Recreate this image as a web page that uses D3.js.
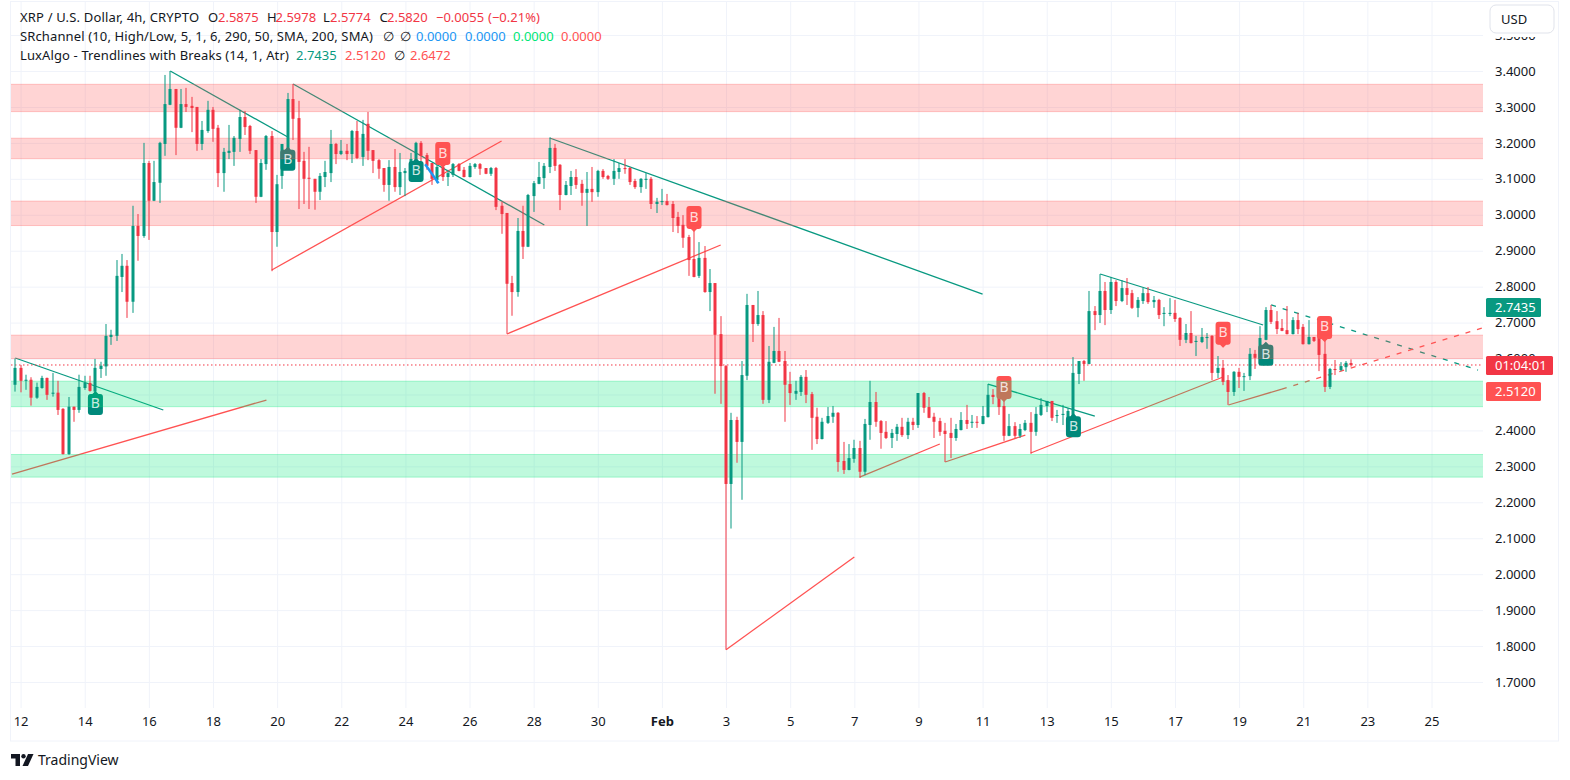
<!DOCTYPE html>
<html>
<head>
<meta charset="utf-8">
<title>XRP / U.S. Dollar</title>
<script src="https://cdn.jsdelivr.net/npm/d3@7"></script>
<style>
body { margin: 0; background: #fff; }
text { font-family: "Noto Sans", sans-serif; }
</style>
</head>
<body>
<div class="canvas"></div>
<script>
// candles, one per 4h, first bar is the last one of Jan 11
const opens = [2.527,2.574,2.538,2.541,2.491,2.518,2.546,2.502,2.505,2.460,2.334,2.466,2.457,2.518,2.532,2.508,2.571,2.578,2.660,2.663,2.827,2.858,2.758,2.969,2.941,3.144,3.039,3.089,3.197,3.306,3.350,3.242,3.308,3.303,3.300,3.197,3.233,3.292,3.242,3.116,3.172,3.175,3.211,3.272,3.247,3.180,3.050,3.141,3.219,2.952,3.108,3.128,3.322,3.269,3.150,3.103,3.100,3.064,3.105,3.116,3.197,3.169,3.178,3.169,3.233,3.161,3.253,3.180,3.152,3.130,3.083,3.133,3.077,3.116,3.108,3.152,3.200,3.166,3.144,3.097,3.133,3.105,3.111,3.141,3.125,3.105,3.133,3.141,3.130,3.114,
3.130,3.025,3.005,2.810,2.785,2.955,2.911,3.052,3.086,3.102,3.133,3.186,3.139,3.055,3.080,3.105,3.086,3.061,3.072,3.063,3.122,3.108,3.100,3.119,3.130,3.130,3.094,3.077,3.097,3.100,3.030,3.036,3.038,3.030,2.994,2.972,2.938,2.877,2.830,2.880,2.785,2.810,2.668,2.579,2.251,2.429,2.368,2.552,2.749,2.696,2.721,2.485,2.588,2.621,2.593,2.529,2.502,2.507,2.549,2.501,2.438,2.376,2.421,2.438,2.449,2.315,2.290,2.321,2.351,2.285,2.415,2.479,2.426,2.396,2.379,2.390,2.410,2.387,2.424,2.415,2.504,2.465,2.438,2.426,2.399,2.393,2.379,2.401,2.429,2.421,2.424,2.418,2.437,2.499,2.496,2.468,2.385,2.412,2.385,2.401,2.421,2.396,2.443,2.468,2.482,2.440,2.443,2.418,2.438,2.557,2.593,2.585,2.732,2.721,2.788,2.735,2.813,2.760,2.796,2.782,2.741,2.760,2.782,2.757,2.763,2.724,2.724,2.727,2.713,2.652,2.671,2.646,2.646,2.657,2.663,2.560,2.574,2.540,2.507,2.563,2.549,2.551,2.613,2.599,2.652,2.735,2.704,2.685,2.679,2.668,2.707,2.688,2.640,2.660,2.713,2.613,2.521,2.571,2.568,2.576,2.5875];
const highs = [2.600,2.582,2.555,2.548,2.533,2.552,2.547,2.560,2.538,2.462,2.493,2.466,2.555,2.552,2.552,2.599,2.591,2.696,2.680,2.874,2.891,2.874,3.025,3.002,3.200,3.150,3.150,3.203,3.389,3.400,3.350,3.350,3.353,3.328,3.300,3.261,3.317,3.300,3.250,3.186,3.250,3.219,3.292,3.289,3.250,3.180,3.155,3.222,3.233,3.111,3.197,3.339,3.364,3.317,3.175,3.189,3.100,3.116,3.150,3.236,3.200,3.208,3.197,3.236,3.261,3.264,3.286,3.180,3.155,3.130,3.152,3.183,3.172,3.130,3.172,3.203,3.205,3.172,3.144,3.139,3.143,3.125,3.144,3.144,3.133,3.144,3.144,3.144,3.130,3.133,
3.133,3.036,3.005,2.830,2.991,3.025,3.058,3.094,3.147,3.144,3.215,3.197,3.141,3.094,3.122,3.127,3.097,3.119,3.133,3.125,3.127,3.111,3.155,3.144,3.155,3.133,3.100,3.102,3.116,3.105,3.047,3.072,3.058,3.038,3.008,2.999,2.944,2.958,2.924,2.913,2.849,2.810,2.718,2.582,2.449,2.438,2.593,2.780,2.749,2.788,2.732,2.635,2.688,2.713,2.621,2.563,2.538,2.554,2.568,2.507,2.463,2.435,2.465,2.468,2.451,2.368,2.362,2.374,2.371,2.432,2.538,2.507,2.429,2.426,2.404,2.418,2.435,2.435,2.435,2.504,2.507,2.493,2.449,2.435,2.421,2.435,2.418,2.451,2.471,2.443,2.440,2.468,2.529,2.515,2.499,2.482,2.446,2.423,2.418,2.429,2.451,2.465,2.490,2.482,2.482,2.457,2.471,2.462,2.604,2.593,2.596,2.788,2.746,2.835,2.813,2.827,2.818,2.818,2.824,2.791,2.771,2.796,2.799,2.774,2.766,2.743,2.768,2.763,2.715,2.696,2.732,2.663,2.685,2.671,2.665,2.607,2.596,2.554,2.565,2.574,2.560,2.629,2.624,2.690,2.743,2.749,2.732,2.710,2.746,2.715,2.727,2.696,2.707,2.660,2.715,2.652,2.574,2.596,2.590,2.593,2.5978];
const lows = [2.508,2.506,2.513,2.469,2.488,2.516,2.485,2.494,2.443,2.333,2.332,2.424,2.449,2.513,2.508,2.476,2.546,2.552,2.638,2.649,2.785,2.713,2.727,2.872,2.936,2.930,3.038,3.033,3.164,3.305,3.166,3.241,3.286,3.230,3.178,3.180,3.228,3.203,3.077,3.064,3.155,3.136,3.175,3.222,3.169,3.033,3.049,3.125,2.843,2.911,3.072,3.127,3.208,3.016,3.030,3.016,3.014,3.041,3.077,3.091,3.141,3.166,3.152,3.144,3.155,3.136,3.152,3.116,3.100,3.064,3.039,3.064,3.055,3.052,3.106,3.139,3.111,3.125,3.083,3.088,3.094,3.080,3.105,3.121,3.104,3.104,3.128,3.111,3.113,3.108,
3.013,2.947,2.669,2.719,2.772,2.877,2.910,3.008,3.085,3.072,3.116,3.122,3.013,3.054,3.055,3.072,3.025,2.969,3.036,3.050,3.100,3.097,3.083,3.100,3.114,3.083,3.072,3.061,3.072,3.016,3.005,3.027,3.026,2.952,2.949,2.908,2.830,2.826,2.824,2.783,2.732,2.502,2.474,1.790,2.127,2.310,2.207,2.540,2.646,2.691,2.474,2.476,2.587,2.590,2.424,2.471,2.485,2.496,2.476,2.346,2.362,2.375,2.418,2.421,2.285,2.279,2.289,2.310,2.268,2.276,2.374,2.410,2.349,2.376,2.351,2.371,2.382,2.376,2.401,2.407,2.449,2.434,2.379,2.385,2.312,2.323,2.371,2.400,2.404,2.407,2.407,2.417,2.436,2.473,2.443,2.371,2.384,2.379,2.379,2.398,2.335,2.385,2.440,2.451,2.426,2.421,2.415,2.415,2.428,2.529,2.538,2.584,2.679,2.699,2.693,2.724,2.746,2.757,2.749,2.738,2.715,2.752,2.752,2.741,2.710,2.690,2.718,2.702,2.635,2.643,2.642,2.607,2.643,2.627,2.540,2.546,2.526,2.471,2.496,2.518,2.510,2.540,2.571,2.593,2.651,2.696,2.668,2.676,2.667,2.667,2.668,2.639,2.639,2.646,2.565,2.507,2.515,2.554,2.565,2.563,2.5774];
const closes = [2.574,2.538,2.541,2.491,2.521,2.546,2.499,2.505,2.457,2.334,2.466,2.457,2.521,2.532,2.510,2.574,2.580,2.663,2.666,2.830,2.858,2.758,2.969,2.941,3.144,3.039,3.091,3.200,3.308,3.350,3.242,3.308,3.300,3.297,3.197,3.236,3.292,3.239,3.116,3.175,3.178,3.214,3.272,3.244,3.178,3.050,3.144,3.219,2.952,3.085,3.197,3.322,3.267,3.147,3.100,3.100,3.064,3.108,3.119,3.197,3.169,3.178,3.169,3.233,3.158,3.225,3.178,3.150,3.128,3.083,3.133,3.077,3.119,3.122,3.155,3.200,3.164,3.136,3.100,3.133,3.105,3.116,3.141,3.122,3.105,3.136,3.141,3.128,3.114,3.130,
3.022,3.002,2.808,2.785,2.955,2.911,3.055,3.088,3.105,3.136,3.186,3.136,3.055,3.083,3.105,3.083,3.061,3.072,3.063,3.122,3.105,3.100,3.122,3.130,3.127,3.091,3.077,3.100,3.100,3.030,3.036,3.038,3.027,2.991,2.969,2.936,2.874,2.827,2.880,2.785,2.810,2.666,2.579,2.251,2.429,2.368,2.554,2.749,2.696,2.721,2.485,2.591,2.621,2.591,2.527,2.504,2.510,2.549,2.499,2.435,2.376,2.424,2.440,2.449,2.312,2.290,2.323,2.351,2.285,2.418,2.479,2.424,2.393,2.379,2.393,2.410,2.387,2.424,2.415,2.504,2.463,2.435,2.424,2.396,2.390,2.379,2.404,2.429,2.418,2.424,2.421,2.440,2.499,2.493,2.465,2.385,2.412,2.385,2.404,2.421,2.396,2.446,2.471,2.482,2.435,2.443,2.446,2.454,2.560,2.593,2.585,2.732,2.721,2.788,2.735,2.813,2.760,2.796,2.777,2.741,2.763,2.782,2.757,2.763,2.721,2.727,2.727,2.710,2.652,2.671,2.643,2.649,2.660,2.660,2.560,2.574,2.535,2.507,2.563,2.549,2.551,2.613,2.602,2.657,2.735,2.702,2.682,2.677,2.668,2.707,2.682,2.640,2.660,2.649,2.610,2.521,2.571,2.568,2.579,2.588,2.5820];

// support / resistance bands [low, high]
const redZones = [[3.287, 3.363], [3.156, 3.213], [2.970, 3.038], [2.600, 2.665]];
const greenZones = [[2.466, 2.537], [2.270, 2.333]];

// trendlines [bar, price, bar, price]
const downLines = [[1, 2.6015, 28.7, 2.4568], [30, 3.400, 52, 3.2164], [53, 3.3638, 100, 2.9715], [101, 3.2136, 182, 2.7795], [183, 2.5291, 203, 2.440], [204, 2.8352, 234.5, 2.6933]];
const upLines = [[0.4, 2.2787, 48, 2.4846], [49, 2.8463, 92, 3.2052], [93, 2.6682, 133, 2.9159], [134, 1.790, 158, 2.0477], [159, 2.2703, 174, 2.3622], [175, 2.3121, 190, 2.3872], [191, 2.3371, 227, 2.5486], [228, 2.4707, 238, 2.515]];
const downDashed = [236, 2.749, 274.7, 2.568];
const upDashed = [238, 2.515, 275.5, 2.685];
const blueStroke = [77.7, 3.1404, 80.2, 3.0875];

// break labels [bar, price at the tip]
const greenLabels = [[16, 2.510], [52, 3.189], [76, 3.158], [199, 2.448], [235, 2.647]];
const redLabels = [[81, 3.130], [128, 2.952], [186, 2.479], [227, 2.630], [246, 2.646]];

const priceTicks = [3.5, 3.4, 3.3, 3.2, 3.1, 3.0, 2.9, 2.8, 2.7, 2.6, 2.5, 2.4, 2.3, 2.2, 2.1, 2.0, 1.9, 1.8, 1.7];
const dayTicks = [0, 2, 4, 6, 8, 10, 12, 14, 16, 18, 20, 22, 24, 26, 28, 30, 32, 34, 36, 38, 40, 42, 44];
const dayLabels = ['12', '14', '16', '18', '20', '22', '24', '26', '28', '30', 'Feb', '3', '5', '7', '9', '11', '13', '15', '17', '19', '21', '23', '25'];

const colors = { up: '#089981', down: '#f23645', zoneRed: '#ff5252', zoneGreen: '#00e676', blue: '#2196f3', text: '#131722', grid: '#f0f3fa' };
const dims = { left: 11, right: 1483, top: 1, bottom: 708 };

const svg = d3.select('.canvas').append('svg')
  .attr('width', 1570)
  .attr('height', 780)
  .style('display', 'block');

const x = d3.scaleLinear().domain([2, 266]).range([20.6, 1431.5]);
const y = d3.scaleLinear().domain([3.4, 1.7]).range([71, 682]);

svg.append('clipPath').attr('id', 'plot').append('rect')
  .attr('x', dims.left).attr('y', dims.top)
  .attr('width', dims.right - dims.left).attr('height', dims.bottom - dims.top);

// frame
svg.append('rect')
  .attr('x', 10.5).attr('y', 1.5).attr('width', 1548).attr('height', 739.5)
  .attr('fill', 'none').attr('stroke', colors.grid);

// grid
const gridY = svg.append('g').attr('class', 'grid-y').attr('transform', `translate(${dims.right}, 0)`)
  .call(d3.axisLeft(y).tickValues(priceTicks).tickSize(dims.right - dims.left).tickFormat(''));
const gridX = svg.append('g').attr('class', 'grid-x').attr('transform', `translate(0, ${dims.bottom})`)
  .call(d3.axisBottom(x).tickValues(dayTicks.map(d => d * 6 + 2)).tickSize(-(dims.bottom - dims.top)).tickFormat(''));
svg.selectAll('.grid-y path, .grid-x path').remove();
svg.selectAll('.grid-y line, .grid-x line').attr('stroke', colors.grid);

// trendlines sit under the bands so they get tinted by them
const lineGroup = svg.append('g').attr('clip-path', 'url(#plot)').attr('fill', 'none').attr('stroke-width', 1.3);
const drawLines = (lines, colour, dash) => {
  lineGroup.selectAll(null).data(lines).enter().append('line')
    .attr('x1', d => x(d[0])).attr('y1', d => y(d[1]))
    .attr('x2', d => x(d[2])).attr('y2', d => y(d[3]))
    .attr('stroke', colour)
    .attr('stroke-dasharray', dash);
};
drawLines(downLines, colors.up, null);
drawLines(upLines, colors.zoneRed, null);
drawLines([downDashed], colors.up, '5 7');
drawLines([upDashed], colors.zoneRed, '5 7');

// bands
const drawZones = (parent) => {
  const bands = redZones.map(d => ({ z: d, c: colors.zoneRed })).concat(greenZones.map(d => ({ z: d, c: colors.zoneGreen })));
  parent.selectAll(null).data(bands).enter().append('rect')
    .attr('x', dims.left).attr('width', dims.right - dims.left)
    .attr('y', d => y(d.z[1])).attr('height', d => y(d.z[0]) - y(d.z[1]))
    .attr('fill', d => d.c).attr('fill-opacity', 0.25);
  parent.selectAll(null).data(bands.flatMap(d => [{ v: d.z[0], c: d.c }, { v: d.z[1], c: d.c }])).enter().append('line')
    .attr('x1', dims.left).attr('x2', dims.right)
    .attr('y1', d => y(d.v)).attr('y2', d => y(d.v))
    .attr('stroke', d => d.c).attr('stroke-opacity', 0.3);
};
drawZones(svg.append('g'));

// last price line
svg.append('line')
  .attr('x1', dims.left).attr('x2', dims.right)
  .attr('y1', y(closes[closes.length - 1])).attr('y2', y(closes[closes.length - 1]))
  .attr('stroke', colors.down).attr('stroke-dasharray', '1.5 2.5');

// candles
const bars = opens.map((o, i) => ({ bar: i + 1, o, h: highs[i], l: lows[i], c: closes[i] }));
const candle = svg.append('g').selectAll('g').data(bars).enter().append('g')
  .attr('fill', d => d.c >= d.o ? colors.up : colors.down);
candle.append('rect')
  .attr('x', d => Math.round(x(d.bar)) - 0.5).attr('width', 1)
  .attr('y', d => y(d.h)).attr('height', d => y(d.l) - y(d.h));
candle.append('rect')
  .attr('x', d => Math.round(x(d.bar)) - 1.5).attr('width', 3)
  .attr('y', d => y(Math.max(d.o, d.c))).attr('height', d => Math.max(1, Math.abs(y(d.o) - y(d.c))));

svg.append('line')
  .attr('x1', x(blueStroke[0])).attr('y1', y(blueStroke[1]))
  .attr('x2', x(blueStroke[2])).attr('y2', y(blueStroke[3]))
  .attr('stroke', colors.blue).attr('stroke-width', 2.5);

// B labels, shape drawn from the tip
const upShape = 'M0,0 L3,3 H4.5 Q7.5,3 7.5,6 V21 Q7.5,24 4.5,24 H-4.5 Q-7.5,24 -7.5,21 V6 Q-7.5,3 -4.5,3 H-3 Z';
const downShape = 'M0,0 L3,-3 H4.5 Q7.5,-3 7.5,-6 V-23 Q7.5,-26 4.5,-26 H-4.5 Q-7.5,-26 -7.5,-23 V-6 Q-7.5,-3 -4.5,-3 H-3 Z';
const labels = greenLabels.map(d => ({ bar: d[0], price: d[1], shape: upShape, fill: '#00897b', dy: 17.5 }))
  .concat(redLabels.map(d => ({ bar: d[0], price: d[1], shape: downShape, fill: colors.zoneRed, dy: -10.5 })));
const place = d => `translate(${x(d.bar)}, ${y(d.price)})`;

svg.append('g').selectAll('path').data(labels).enter().append('path')
  .attr('d', d => d.shape).attr('fill', d => d.fill).attr('transform', place);

// bands tint the labels but not the candles
svg.append('clipPath').attr('id', 'labelClip').selectAll('path').data(labels).enter().append('path')
  .attr('d', d => d.shape).attr('transform', place);
drawZones(svg.append('g').attr('clip-path', 'url(#labelClip)'));

svg.append('g').selectAll('text').data(labels).enter().append('text')
  .attr('transform', place)
  .attr('y', d => d.dy)
  .attr('text-anchor', 'middle')
  .attr('font-size', 14)
  .attr('fill', '#fff').attr('fill-opacity', 0.8)
  .text('B');

// price axis
const yAxis = svg.append('g').attr('transform', 'translate(1487, 0)')
  .call(d3.axisRight(y).tickValues(priceTicks).tickSize(0).tickPadding(8).tickFormat(d3.format('.4f')));
yAxis.select('path').remove();
yAxis.selectAll('text').attr('font-size', 13).attr('fill', colors.text).style('font-family', '"Noto Sans", sans-serif');

// time axis
const xAxis = svg.append('g').attr('transform', `translate(0, ${dims.bottom})`)
  .call(d3.axisBottom(x).tickValues(dayTicks.map(d => d * 6 + 2)).tickSize(0).tickPadding(9).tickFormat((d, i) => dayLabels[i]));
xAxis.select('path').remove();
xAxis.selectAll('text').attr('font-size', 13).attr('fill', colors.text)
  .style('font-family', '"Noto Sans", sans-serif')
  .attr('font-weight', (d, i) => dayLabels[i] === 'Feb' ? 700 : 400);

// price tags
const tags = [
  { text: '2.7435', top: 298, w: 55, fill: colors.up },
  { text: '01:04:01', top: 356, w: 67, fill: colors.down },
  { text: '2.5120', top: 382, w: 55, fill: colors.zoneRed }
];
const tag = svg.append('g').selectAll('g').data(tags).enter().append('g');
tag.append('rect').attr('x', 1486).attr('y', d => d.top).attr('width', d => d.w).attr('height', 19).attr('rx', 1.5).attr('fill', d => d.fill);
tag.append('text').attr('x', 1495).attr('y', d => d.top + 14).attr('font-size', 13).attr('fill', '#fff').text(d => d.text);

// currency button, its white surround eats the top of the 3.5000 tick
svg.append('rect').attr('x', 1485).attr('y', 3).attr('width', 72).attr('height', 34).attr('fill', '#fff');
svg.append('rect').attr('x', 1490).attr('y', 5).attr('width', 64).attr('height', 28).attr('rx', 6)
  .attr('fill', '#fff').attr('stroke', '#e0e3eb');
svg.append('text').attr('x', 1501).attr('y', 24).attr('font-size', 13).attr('fill', colors.text).text('USD');

// header
const header = [
  [20, 22, 'XRP / U.S. Dollar, 4h, CRYPTO', colors.text, 0.17],
  [208, 22, 'O', colors.text], [218, 22, '2.5875', colors.down],
  [267, 22, 'H', colors.text], [275.5, 22, '2.5978', colors.down],
  [323, 22, 'L', colors.text], [330, 22, '2.5774', colors.down],
  [379.5, 22, 'C', colors.text], [387, 22, '2.5820', colors.down],
  [436, 22, '\u22120.0055', colors.down], [488, 22, '(\u22120.21%)', colors.down],
  [20, 41, 'SRchannel (10, High/Low, 5, 1, 6, 290, 50, SMA, 200, SMA)', colors.text, 0.13],
  [383, 41, '\u2205', colors.text], [400, 41, '\u2205', colors.text],
  [416, 41, '0.0000', colors.blue], [465, 41, '0.0000', colors.blue],
  [513, 41, '0.0000', colors.zoneGreen], [561, 41, '0.0000', colors.zoneRed],
  [20, 60, 'LuxAlgo - Trendlines with Breaks (14, 1, Atr)', colors.text, 0.12],
  [296, 60, '2.7435', colors.up], [345, 60, '2.5120', colors.zoneRed],
  [394, 60, '\u2205', colors.text], [410, 60, '2.6472', colors.zoneRed]
];
svg.append('g').selectAll('text').data(header).enter().append('text')
  .attr('x', d => d[0]).attr('y', d => d[1])
  .attr('font-size', 13).attr('fill', d => d[3])
  .attr('letter-spacing', d => d[4] || 0)
  .text(d => d[2]);

// logo
const logo = svg.append('g').attr('fill', '#131722');
logo.append('path').attr('d', 'M11,754 H20 V766 H15.5 V758.5 H11 Z');
logo.append('circle').attr('cx', 23.5).attr('cy', 756.2).attr('r', 2.2);
logo.append('path').attr('d', 'M28,754 H33.5 L28,766 H22.5 Z');
svg.append('text').attr('x', 38).attr('y', 765).attr('font-size', 14).attr('fill', '#131722').text('TradingView');
</script>
</body>
</html>
